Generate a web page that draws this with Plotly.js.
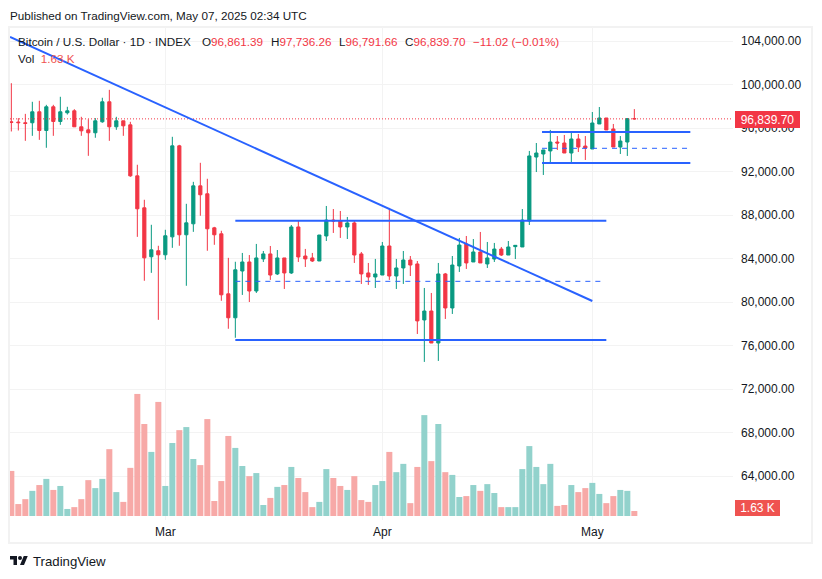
<!DOCTYPE html>
<html><head><meta charset="utf-8">
<script src="https://cdn.plot.ly/plotly-3.0.1.min.js"></script>
<style>html,body{margin:0;padding:0;background:#fff}#c{width:822px;height:579px}</style></head>
<body><div id="c"></div>
<script>
const opens = [96570,96550,96480,96480,97490,95770,97950,96600,97400,97580,96110,95830,95560,96570,98410,96110,96660,96290,91600,88660,84160,84710,84340,85990,94360,86180,87190,90680,89950,86820,86270,80750,78550,
82850,83680,81010,83960,84420,82580,84050,82670,86900,84230,84050,83770,86070,87540,87450,86900,87270,84420,82670,82300,82480,85150,82390,83130,83860,83500,78350,79170,76230,82580,79450,
83310,85330,83680,84600,83500,83950,84870,84320,85090,85060,87450,93330,93610,93890,94710,94620,93700,94990,94340,94070,96370,96920,95910,94250,94710,96861.39];
const highs = [100120,96910,97300,98410,98500,98130,98130,98870,97950,97730,97030,96810,96910,98780,99510,97030,96660,96570,92620,89400,87100,85170,86640,95190,94450,89030,91050,92800,91330,86910,86550,84060,83700,
84510,84320,85340,84690,85150,84780,84050,87080,87540,84880,84510,86160,88830,88550,88370,87820,87450,84600,83590,83960,85520,88650,83960,84690,84230,83770,81290,80830,83590,82670,84230,
85890,86070,85790,86440,85520,85430,85060,85610,85240,88550,93890,94620,94000,95820,95260,95360,95630,95450,95260,97470,97930,96920,96370,95260,96920,97736.26];
const lows = [95680,95770,94820,95280,94910,94180,95280,96290,97240,96110,95280,93440,95100,96480,94820,95830,95280,91510,85990,81950,82680,78360,83880,84980,85170,81490,86450,87930,84710,85260,80110,77540,76710,
80650,80000,80830,83680,82030,82480,81200,82580,83680,83220,83680,83770,85610,86350,85890,85790,83590,81660,81570,81290,82480,82030,81200,81660,82390,77060,74490,76230,74580,78440,78900,
82760,83040,83680,83590,83130,83680,84230,84320,83950,85060,87080,91950,91680,92870,93980,93700,92870,93790,93060,94070,96370,95820,94250,93610,93430,96791.66];
const closes = [96510,96490,96420,97490,95770,97950,96600,97490,97580,96110,95740,95560,96660,98410,96110,96660,96200,91600,88570,84060,84800,84340,86090,94360,86180,87280,90680,89860,86730,86180,80660,78550,82960,
83680,81010,84050,84420,82480,84050,82670,86900,84140,83960,83770,86160,87540,87450,86900,87270,84320,82580,82300,82580,85150,82390,83130,83860,83400,78260,79170,76230,82580,79450,83400,
85240,83590,84600,83590,84050,84870,84320,85060,85210,87540,93430,93700,93980,94710,94620,93700,94990,94250,94160,96460,96920,95820,94250,94800,96860,96839.70];
const volumesK = [14.7,3.9,5.5,8.2,10.1,12.1,8.5,9.8,2.3,2.9,5.5,11.7,9.1,12.1,21.8,7.8,4.6,15.7,39.8,30.0,20.9,37.2,9.8,23.8,28.0,29.0,18.6,16.6,31.6,4.9,11.4,26.1,22.2,16.3,13.0,14.0,3.6,5.9,9.5,10.1,16.0,12.4,7.8,2.9,4.6,15.3,12.4,9.8,8.5,13.0,5.2,4.6,10.1,11.4,20.9,14.3,17.0,4.2,16.0,32.9,17.9,30.0,14.3,13.4,6.2,6.5,10.1,8.2,10.4,7.5,2.9,2.9,2.9,15.3,22.8,16.0,10.4,17.0,3.3,3.6,10.1,7.8,9.1,10.8,7.2,4.2,6.5,8.5,8.2,1.63];
const trendDates = ['2025-02-06 19:30','2025-05-01 00:00'];
const trendPrices = [104368,80092];
const rangeADates = ['2025-03-11 00:00','2025-05-03 00:00'];
const rangeATop = 87476, rangeAMid = 81900, rangeABottom = 76505, rangeAMidEnd = '2025-05-02 12:00';
const rangeBDates = ['2025-04-23 19:30','2025-05-15 00:00'];
const rangeBTop = 95632, rangeBMid = 94133, rangeBBottom = 92782;
const lastPrice = 96839.70;
const priceTicks = [64000,68000,72000,76000,80000,84000,88000,92000,96000,100000,104000];
const xRange = ['2025-02-06 19:26','2025-05-21 02:17'];
const priceRange = [59954,105287];
const volumeRange = [-1.3,159.44];

const GREEN='#089981', RED='#F23645', BLUE='#2962FF', VG='#92d2cc', VR='#f7a9a7', GRID='#f3f3f3', FRAME='#f2f2f2', INK='#131722';
const FONT='"Liberation Sans", sans-serif';
const dates = opens.map((_,i)=>new Date(Date.UTC(2025,1,7+i)).toISOString().slice(0,10));

const L=10,R=733,T=27,B=520;
const px = x => (x-L)/(R-L), py = y => (B-y)/(B-T);

const traces = [
 {type:'bar',x:dates,y:volumesK,yaxis:'y',marker:{color:closes.map((c,i)=>c>=opens[i]?VG:VR),line:{width:0}},hoverinfo:'skip'},
 {type:'candlestick',x:dates,open:opens,high:highs,low:lows,close:closes,yaxis:'y2',whiskerwidth:0,
  increasing:{line:{color:GREEN,width:1},fillcolor:GREEN},decreasing:{line:{color:RED,width:1},fillcolor:RED},hoverinfo:'skip'},
 {type:'scatter',mode:'lines',x:xRange,y:[lastPrice,lastPrice],yaxis:'y2',line:{color:RED,width:1,dash:'1px,2px'},hoverinfo:'skip'},
 {type:'scatter',mode:'lines',x:trendDates,y:trendPrices,yaxis:'y2',line:{color:BLUE,width:2},hoverinfo:'skip'},
 {type:'scatter',mode:'lines',x:rangeADates,y:[rangeATop,rangeATop],yaxis:'y2',line:{color:BLUE,width:2},hoverinfo:'skip'},
 {type:'scatter',mode:'lines',x:rangeADates,y:[rangeABottom,rangeABottom],yaxis:'y2',line:{color:BLUE,width:2},hoverinfo:'skip'},
 {type:'scatter',mode:'lines',x:[rangeADates[0],rangeAMidEnd],y:[rangeAMid,rangeAMid],yaxis:'y2',line:{color:BLUE,width:1,dash:'5px,5px'},hoverinfo:'skip'},
 {type:'scatter',mode:'lines',x:rangeBDates,y:[rangeBTop,rangeBTop],yaxis:'y2',line:{color:BLUE,width:2},hoverinfo:'skip'},
 {type:'scatter',mode:'lines',x:rangeBDates,y:[rangeBBottom,rangeBBottom],yaxis:'y2',line:{color:BLUE,width:2},hoverinfo:'skip'},
 {type:'scatter',mode:'lines',x:rangeBDates,y:[rangeBMid,rangeBMid],yaxis:'y2',line:{color:BLUE,width:1,dash:'5px,5px'},hoverinfo:'skip'}
];

const note = (text,x,y,opt={}) => Object.assign({xref:'paper',yref:'paper',x:px(x),y:py(y),text,showarrow:false,xanchor:'left',yanchor:'middle',align:'left',
   font:{family:FONT,size:12,color:INK},borderpad:0,borderwidth:0},opt);
const red = t => `<span style="color:${RED}">${t}</span>`;
const small = {font:{family:FONT,size:11.7,color:INK}};

const logo = 'data:image/svg+xml,'+encodeURIComponent('<svg xmlns="http://www.w3.org/2000/svg" viewBox="0 0 36 28"><path fill="#131722" d="M14 22H7V11H0V4h14v18zM28 22h-8l7.5-18h8L28 22z"/><circle fill="#131722" cx="20" cy="8" r="4"/></svg>');

const layout = {
 width:822,height:579,margin:{l:L,r:822-R,t:T,b:579-B,pad:0},paper_bgcolor:'#fff',plot_bgcolor:'#fff',showlegend:false,
 bargap:0.14,boxgap:0.35,dragmode:false,hovermode:false,
 font:{family:FONT,size:12,color:INK},
 xaxis:{type:'date',range:xRange,tick0:'2025-02-01',dtick:'M1',tickformat:'%b',showgrid:true,gridcolor:GRID,gridwidth:1,zeroline:false,showline:false,ticks:'',ticklabelstandoff:3,rangeslider:{visible:false},tickfont:{size:12,color:INK,family:FONT},fixedrange:true},
 yaxis:{range:volumeRange,visible:false,showgrid:false,zeroline:false,fixedrange:true},
 yaxis2:{overlaying:'y',side:'right',range:priceRange,tickmode:'array',tickvals:priceTicks,ticktext:priceTicks.map(v=>v.toLocaleString('en-US',{minimumFractionDigits:2})),
   showgrid:true,gridcolor:GRID,gridwidth:1,zeroline:false,showline:false,ticks:'',ticklabelposition:'outside',ticklabelstandoff:7,tickfont:{size:12,color:INK,family:FONT},fixedrange:true},
 shapes:[{type:'rect',xref:'paper',yref:'paper',x0:px(9),x1:px(812),y0:py(543),y1:py(27),line:{color:FRAME,width:2},fillcolor:'rgba(0,0,0,0)',layer:'below'}],
 images:[{source:logo,xref:'paper',yref:'paper',x:px(10),y:py(554),sizex:18/723,sizey:14/493,xanchor:'left',yanchor:'top',sizing:'contain',layer:'above'}],
 annotations:[
  note('Published on TradingView.com, May 07, 2025 02:34 UTC',10,15,small),
  note('Bitcoin / U.S. Dollar · 1D · INDEX',18,41.5,small),
  note(`O${red('96,861.39')}`,202,41.5,small),
  note(`H${red('97,736.26')}`,271,41.5,small),
  note(`L${red('96,791.66')}`,339,41.5,small),
  note(`C${red('96,839.70')}`,405,41.5,small),
  note(red('−11.02 (−0.01%)'),473,41.5,small),
  note(`Vol  <span style="color:#ef5350">1.63 K</span>`,18,58,small),
  note('TradingView',33,561,{font:{family:FONT,size:13.2,color:INK}}),
  note('96,839.70',735,119,{font:{family:FONT,size:12,color:'#fff'},bgcolor:RED,width:65,height:17,align:'center'}),
  note('1.63 K',735,508,{font:{family:FONT,size:12,color:'#fff'},bgcolor:'#ef5350',width:45,height:16,align:'center'})
 ]
};
Plotly.newPlot('c',traces,layout,{staticPlot:true,displayModeBar:false});
</script></body></html>
